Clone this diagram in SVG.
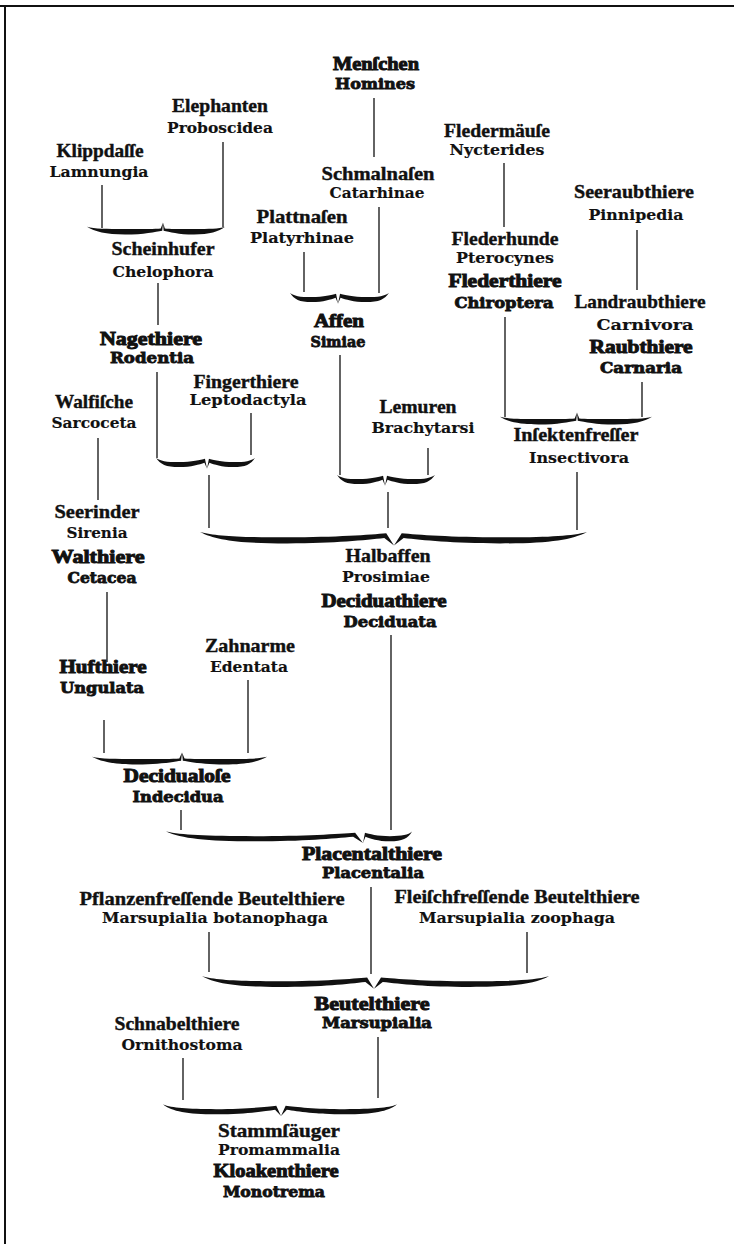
<svg xmlns="http://www.w3.org/2000/svg" xmlns:xlink="http://www.w3.org/1999/xlink" width="734" height="1244" viewBox="0 0 734 1244">
<style>
text{text-anchor:middle;fill:#111;}
.fr{font-family:"Liberation Serif","DejaVu Serif",serif;font-weight:700;font-size:19px;stroke:#111;stroke-width:0.4px;}
.frb{font-family:"Liberation Serif","DejaVu Serif",serif;font-weight:700;font-size:19px;stroke:#111;stroke-width:1px;}
.lt{font-family:"DejaVu Serif","Liberation Serif",serif;font-weight:700;font-size:15px;stroke:#111;stroke-width:0.15px;}
.ltb{font-family:"DejaVu Serif","Liberation Serif",serif;font-weight:700;font-size:14.5px;stroke:#111;stroke-width:0.8px;}
.ln{stroke:#111;stroke-width:1.3;fill:none;}
.br{fill:#111;}
.frame{stroke:#111;stroke-width:2;fill:none;}
</style>
<defs>
<path id="armD" d="M0,-3 C8,0 20,1 45,1 C70,1 88,-1 96,-2 L100,7 L95,1.5 C85,3 70,5.5 45,5.5 C20,5.5 8,3 0,-3 Z"/>
<path id="armU" d="M0,-2 C10,0 25,0 50,0 C75,0 90,0 97,-0.5 L100,-6 L99,1.5 C90,2.5 75,5 50,5 C25,5 10,2.5 0,-2 Z"/>
</defs>
<rect width="734" height="1244" fill="#fff"/>
<path class="frame" d="M0,6 H734 M5,6 V1244"/>

<g id="connectors">
<path class="ln" d="M102,185V228 M223,142V227 M158,283V325 M374,98V157 M379,207V293 M304,252V292 M504,163V227 M505,317V417 M637,230V290 M642,382V417 M157,372V458 M251,413V455 M340,355V475 M428,448V475 M209,475V528 M388,492V528 M577,472V530 M98,438V500 M107,592V662 M104,720V753 M248,680V753 M181,810V830 M391,635V830 M209,932V972 M371,887V974 M527,932V973 M183,1058V1100 M378,1037V1098"/>
<g class="br">
<use xlink:href="#armU" transform="translate(87,229) scale(0.76,1.1)"/>
<use xlink:href="#armU" transform="translate(225,229) scale(-0.62,1.1)"/>
<use xlink:href="#armD" transform="translate(290,296) scale(0.48,1.1)"/>
<use xlink:href="#armD" transform="translate(389,296) scale(-0.51,1.1)"/>
<use xlink:href="#armU" transform="translate(500,419) scale(0.77,1.1)"/>
<use xlink:href="#armU" transform="translate(652,419) scale(-0.75,1.1)"/>
<use xlink:href="#armD" transform="translate(156,461) scale(0.51,1.1)"/>
<use xlink:href="#armD" transform="translate(255,461) scale(-0.48,1.1)"/>
<use xlink:href="#armD" transform="translate(337,478) scale(0.48,1.1)"/>
<use xlink:href="#armD" transform="translate(435,478) scale(-0.50,1.1)"/>
<use xlink:href="#armD" transform="translate(200,536) scale(1.94,1.35)"/>
<use xlink:href="#armD" transform="translate(587,536) scale(-1.93,1.35)"/>
<use xlink:href="#armU" transform="translate(92,759) scale(0.90,1.1)"/>
<use xlink:href="#armU" transform="translate(267,759) scale(-0.85,1.1)"/>
<use xlink:href="#armD" transform="translate(166,835) scale(1.97,1.15)"/>
<use xlink:href="#armD" transform="translate(412,835) scale(-0.49,1.15)"/>
<use xlink:href="#armD" transform="translate(202,980) scale(1.72,1.25)"/>
<use xlink:href="#armD" transform="translate(549,980) scale(-1.75,1.25)"/>
<use xlink:href="#armD" transform="translate(163,1108) scale(1.18,1.15)"/>
<use xlink:href="#armD" transform="translate(397,1108) scale(-1.16,1.15)"/>
</g>
</g>

<g id="n-homines"><text class="frb" x="376" y="70" textLength="86" lengthAdjust="spacingAndGlyphs">Menſchen</text><text class="ltb" x="375" y="89" textLength="80" lengthAdjust="spacingAndGlyphs">Homines</text></g>
<g id="n-proboscidea"><text class="fr" x="220" y="112" textLength="96" lengthAdjust="spacingAndGlyphs">Elephanten</text><text class="lt" x="220" y="133" textLength="106" lengthAdjust="spacingAndGlyphs">Proboscidea</text></g>
<g id="n-lamnungia"><text class="fr" x="100" y="157" textLength="87" lengthAdjust="spacingAndGlyphs">Klippdaſſe</text><text class="lt" x="99" y="177" textLength="99" lengthAdjust="spacingAndGlyphs">Lamnungia</text></g>
<g id="n-catarhinae"><text class="fr" x="378" y="180" textLength="113" lengthAdjust="spacingAndGlyphs">Schmalnaſen</text><text class="lt" x="377" y="198" textLength="95" lengthAdjust="spacingAndGlyphs">Catarhinae</text></g>
<g id="n-nycterides"><text class="fr" x="497" y="137" textLength="106" lengthAdjust="spacingAndGlyphs">Fledermäuſe</text><text class="lt" x="497" y="155" textLength="95" lengthAdjust="spacingAndGlyphs">Nycterides</text></g>
<g id="n-pinnipedia"><text class="fr" x="634" y="198" textLength="120" lengthAdjust="spacingAndGlyphs">Seeraubthiere</text><text class="lt" x="636" y="220" textLength="95" lengthAdjust="spacingAndGlyphs">Pinnipedia</text></g>
<g id="n-platyrhinae"><text class="fr" x="302" y="223" textLength="91" lengthAdjust="spacingAndGlyphs">Plattnaſen</text><text class="lt" x="302" y="243" textLength="104" lengthAdjust="spacingAndGlyphs">Platyrhinae</text></g>
<g id="n-chelophora"><text class="fr" x="163" y="255" textLength="103" lengthAdjust="spacingAndGlyphs">Scheinhufer</text><text class="lt" x="163" y="277" textLength="101" lengthAdjust="spacingAndGlyphs">Chelophora</text></g>
<g id="n-chiroptera"><text class="fr" x="505" y="245" textLength="107" lengthAdjust="spacingAndGlyphs">Flederhunde</text><text class="lt" x="505" y="263" textLength="98" lengthAdjust="spacingAndGlyphs">Pterocynes</text><text class="frb" x="505" y="287" textLength="113" lengthAdjust="spacingAndGlyphs">Flederthiere</text><text class="ltb" x="504" y="308" textLength="99" lengthAdjust="spacingAndGlyphs">Chiroptera</text></g>
<g id="n-carnaria"><text class="fr" x="640" y="308" textLength="131" lengthAdjust="spacingAndGlyphs">Landraubthiere</text><text class="lt" x="645" y="330" textLength="97" lengthAdjust="spacingAndGlyphs">Carnivora</text><text class="frb" x="641" y="353" textLength="103" lengthAdjust="spacingAndGlyphs">Raubthiere</text><text class="ltb" x="641" y="373" textLength="82" lengthAdjust="spacingAndGlyphs">Carnaria</text></g>
<g id="n-simiae"><text class="frb" x="339" y="327" textLength="50" lengthAdjust="spacingAndGlyphs">Affen</text><text class="ltb" x="338" y="347" textLength="55" lengthAdjust="spacingAndGlyphs">Simiae</text></g>
<g id="n-rodentia"><text class="frb" x="151" y="345" textLength="102" lengthAdjust="spacingAndGlyphs">Nagethiere</text><text class="ltb" x="152" y="363" textLength="84" lengthAdjust="spacingAndGlyphs">Rodentia</text></g>
<g id="n-leptodactyla"><text class="fr" x="246" y="388" textLength="105" lengthAdjust="spacingAndGlyphs">Fingerthiere</text><text class="lt" x="248" y="405" textLength="117" lengthAdjust="spacingAndGlyphs">Leptodactyla</text></g>
<g id="n-sarcoceta"><text class="fr" x="94" y="408" textLength="78" lengthAdjust="spacingAndGlyphs">Walfiſche</text><text class="lt" x="94" y="428" textLength="85" lengthAdjust="spacingAndGlyphs">Sarcoceta</text></g>
<g id="n-brachytarsi"><text class="fr" x="418" y="413" textLength="77" lengthAdjust="spacingAndGlyphs">Lemuren</text><text class="lt" x="423" y="433" textLength="103" lengthAdjust="spacingAndGlyphs">Brachytarsi</text></g>
<g id="n-insectivora"><text class="fr" x="576" y="441" textLength="125" lengthAdjust="spacingAndGlyphs">Inſektenfreſſer</text><text class="lt" x="579" y="463" textLength="100" lengthAdjust="spacingAndGlyphs">Insectivora</text></g>
<g id="n-cetacea"><text class="fr" x="97" y="518" textLength="85" lengthAdjust="spacingAndGlyphs">Seerinder</text><text class="lt" x="97" y="538" textLength="61" lengthAdjust="spacingAndGlyphs">Sirenia</text><text class="frb" x="98" y="563" textLength="93" lengthAdjust="spacingAndGlyphs">Walthiere</text><text class="ltb" x="102" y="583" textLength="69" lengthAdjust="spacingAndGlyphs">Cetacea</text></g>
<g id="n-deciduata"><text class="fr" x="388" y="562" textLength="85" lengthAdjust="spacingAndGlyphs">Halbaffen</text><text class="lt" x="386" y="582" textLength="88" lengthAdjust="spacingAndGlyphs">Prosimiae</text><text class="frb" x="384" y="607" textLength="125" lengthAdjust="spacingAndGlyphs">Deciduathiere</text><text class="ltb" x="390" y="627" textLength="93" lengthAdjust="spacingAndGlyphs">Deciduata</text></g>
<g id="n-ungulata"><text class="frb" x="103" y="673" textLength="87" lengthAdjust="spacingAndGlyphs">Hufthiere</text><text class="ltb" x="102" y="693" textLength="84" lengthAdjust="spacingAndGlyphs">Ungulata</text></g>
<g id="n-edentata"><text class="fr" x="250" y="652" textLength="90" lengthAdjust="spacingAndGlyphs">Zahnarme</text><text class="lt" x="249" y="672" textLength="78" lengthAdjust="spacingAndGlyphs">Edentata</text></g>
<g id="n-indecidua"><text class="frb" x="177" y="782" textLength="107" lengthAdjust="spacingAndGlyphs">Decidualoſe</text><text class="ltb" x="178" y="802" textLength="91" lengthAdjust="spacingAndGlyphs">Indecidua</text></g>
<g id="n-placentalia"><text class="frb" x="372" y="860" textLength="140" lengthAdjust="spacingAndGlyphs">Placentalthiere</text><text class="ltb" x="373" y="878" textLength="102" lengthAdjust="spacingAndGlyphs">Placentalia</text></g>
<g id="n-botanophaga"><text class="fr" x="212" y="905" textLength="265" lengthAdjust="spacingAndGlyphs">Pflanzenfreſſende  Beutelthiere</text><text class="lt" x="215" y="923" textLength="226" lengthAdjust="spacingAndGlyphs">Marsupialia  botanophaga</text></g>
<g id="n-zoophaga"><text class="fr" x="517" y="903" textLength="245" lengthAdjust="spacingAndGlyphs">Fleiſchfreſſende  Beutelthiere</text><text class="lt" x="517" y="923" textLength="196" lengthAdjust="spacingAndGlyphs">Marsupialia  zoophaga</text></g>
<g id="n-marsupialia"><text class="frb" x="372" y="1010" textLength="115" lengthAdjust="spacingAndGlyphs">Beutelthiere</text><text class="ltb" x="377" y="1028" textLength="110" lengthAdjust="spacingAndGlyphs">Marsupialia</text></g>
<g id="n-ornithostoma"><text class="fr" x="177" y="1030" textLength="125" lengthAdjust="spacingAndGlyphs">Schnabelthiere</text><text class="lt" x="182" y="1050" textLength="121" lengthAdjust="spacingAndGlyphs">Ornithostoma</text></g>
<g id="n-monotrema"><text class="fr" x="279" y="1137" textLength="122" lengthAdjust="spacingAndGlyphs">Stammſäuger</text><text class="lt" x="279" y="1155" textLength="122" lengthAdjust="spacingAndGlyphs">Promammalia</text><text class="frb" x="276" y="1177" textLength="125" lengthAdjust="spacingAndGlyphs">Kloakenthiere</text><text class="ltb" x="274" y="1197" textLength="102" lengthAdjust="spacingAndGlyphs">Monotrema</text></g>
</svg>
